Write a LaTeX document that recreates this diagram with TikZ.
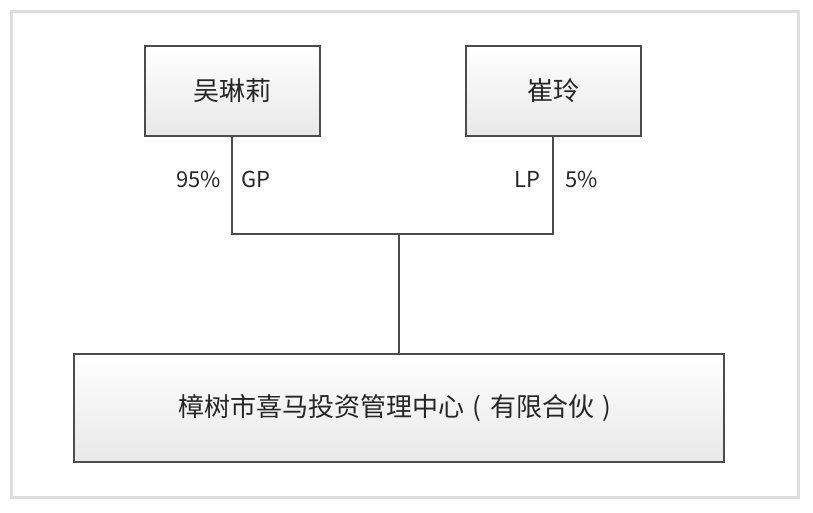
\documentclass[tikz,border=0pt]{standalone}
\usepackage{fontspec}
\setmainfont{Noto Sans CJK SC}
\newcommand{\lpar}{\makebox[1em]{(}}
\newcommand{\rpar}{\makebox[1em]{)}}
\begin{document}
\begin{tikzpicture}[x=1pt, y=-1pt,
  partner/.style={draw=black!70, line width=2pt, top color=white, bottom color=black!9,
    minimum width=175pt, minimum height=90pt, font=\fontsize{26}{30}\selectfont, text=black!85},
  fund/.style={partner, minimum width=650pt, minimum height=108pt},
  share/.style={font=\fontsize{22}{26}\selectfont, text=black!85, inner sep=0pt},
  link/.style={draw=black!70, line width=2pt}]
\useasboundingbox (0,0) rectangle (813,512);
\draw[black!13, line width=3pt] (11,11) rectangle (798,497);
\node [partner] (wu) at (232,91) {吴琳莉};
\node [partner] (cui) at (553,91) {崔玲};
\node [fund] (zs) at (399,408) {樟树市喜马投资管理中心\lpar 有限合伙\rpar\hspace{12pt}};
\coordinate (mid) at (399,234);
\draw [link] (wu.south) |- (mid) -| (cui.south);
\draw [link] (mid) -- (zs.north);
% shares
\node [share, anchor=east] (wupct) at (221,179) {95\%};
\node [share, anchor=west] (wurole) at (241,179) {GP};
\node [share, anchor=east] (cuirole) at (541,179) {LP};
\node [share, anchor=west] (cuipct) at (565,179) {5\%};
\end{tikzpicture}
\end{document}
